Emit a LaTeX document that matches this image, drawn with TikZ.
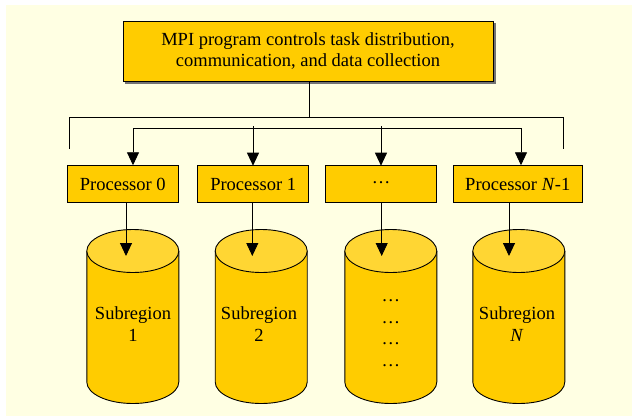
\documentclass[tikz,border=0pt]{standalone}
\usepackage{fontspec}
\setmainfont{Liberation Serif}
\usetikzlibrary{arrows.meta,shapes.geometric}
\definecolor{bgyellow}{HTML}{FFFFE3}
\definecolor{boxyellow}{HTML}{FFCC00}
\definecolor{topyellow}{HTML}{FFD633}
\begin{document}
\begin{tikzpicture}[x=1pt,y=-1pt,
  every node/.style={font=\fontsize{18.5}{21.5}\selectfont, text=black},
  box/.style={draw=black, line width=0.9pt, fill=boxyellow, inner sep=0pt, minimum height=37pt},
  shadowline/.style={draw=black!55, line width=1.2pt},
  conn/.style={draw=black, line width=0.9pt},
  arr/.style={conn, -{Triangle[length=13pt,width=12pt]}},
  cyl/.style={draw=black, line width=0.9pt}
]
\useasboundingbox (0,0) rectangle (632,416);
\fill[bgyellow] (6,5) rectangle (632,416);

% top box
\draw[shadowline] (125,83) -- (495,83) -- (495,23);
\node[box, minimum width=370pt, minimum height=60pt, align=center] (top) at (308,51)
  {MPI program controls task distribution,\\communication, and data collection};

% processors
\node[box, minimum width=111pt] (p0) at (122.8,184.2) {Processor 0};
\node[box, minimum width=111pt] (p1) at (253.2,184.2) {Processor 1};
\node[box, minimum width=111pt] (p2) at (381.2,184.2) {\raisebox{3pt}{…}};
\node[box, minimum width=129pt] (p3) at (517.8,184.2) {Processor \textit{N}-1};

% bracket lines
\coordinate (stemend) at (309,117);
\coordinate (ol) at (69,117);
\coordinate (or) at (563,117);
\coordinate (oll) at (69,149);
\coordinate (orl) at (563,149);
\draw[conn] (top.south -| stemend) -- (stemend);
\draw[conn] (oll) -- (ol) -- (or) -- (orl);
\coordinate (il) at (133,128);
\coordinate (ir) at (521,128);
\draw[conn] (il) -- (ir);
\draw[arr] (il) -- (il |- p0.north);
\draw[arr] (253,126) -- (253,165.7);
\draw[arr] (381,126) -- (381,165.7);
\draw[arr] (ir) -- (ir |- p3.north);

% cylinders
\foreach \cx/\nm in {132.8/c0, 261.2/c1, 390.8/c2, 518.8/c3}{
  \fill[boxyellow] (\cx-46,251) -- (\cx-46,382) arc[start angle=180,end angle=0,x radius=46,y radius=21.5] -- (\cx+46,251) -- cycle;
  \draw[cyl] (\cx-46,251) -- (\cx-46,382) arc[start angle=180,end angle=0,x radius=46,y radius=21.5] -- (\cx+46,251);
  \draw[cyl, fill=topyellow] (\cx,251) ellipse[x radius=46, y radius=21.5];
  \coordinate (\nm) at (\cx,251);
}
\node[align=center] (s0) at (133,324) {Subregion\\1};
\node[align=center] (s1) at (259,324) {Subregion\\2};
\node[align=center] (s3) at (517,324) {Subregion\\\textit{N}};
\node (d1) at (390.8,301) {…};
\node (d2) at (390.8,323) {…};
\node (d3) at (390.8,344) {…};
\node (d4) at (390.8,366) {…};

% processor to cylinder arrows
\draw[arr] (126,202.7) -- (126,256);
\draw[arr] (252.3,202.7) -- (252.3,256);
\draw[arr] (381.7,202.7) -- (381.7,256);
\draw[arr] (509,202.7) -- (509,256);
\end{tikzpicture}
\end{document}
